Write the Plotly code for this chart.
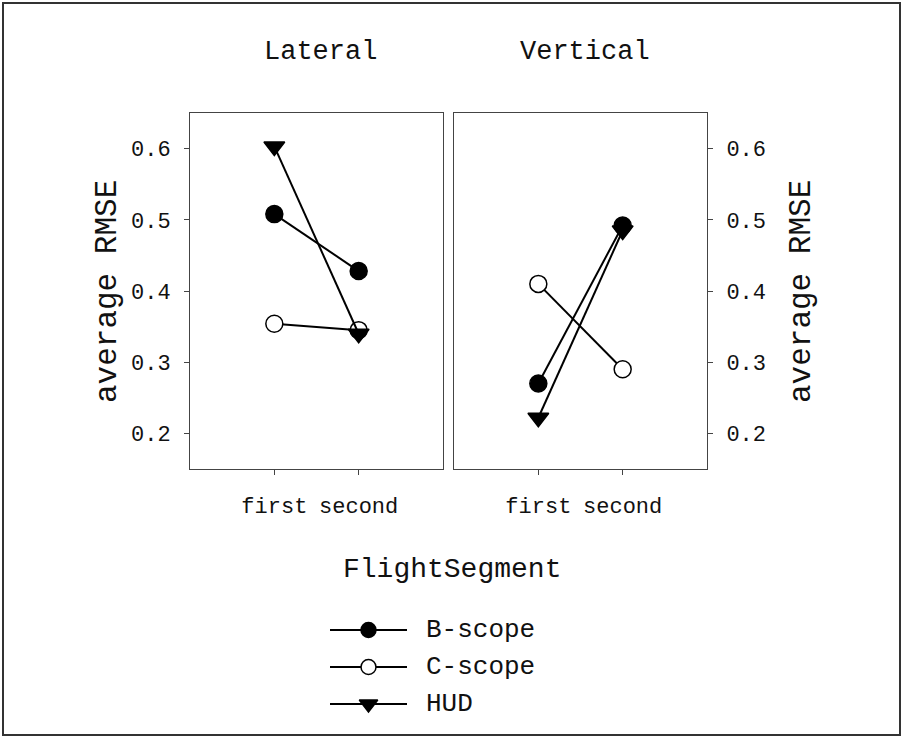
import plotly.graph_objects as go

# Average RMSE by flight segment, display type and axis
segments = ["first", "second"]
displays = ["B-scope", "C-scope", "HUD"]
lateral = {
    "B-scope": [0.508, 0.428],
    "C-scope": [0.354, 0.345],
    "HUD": [0.603, 0.340],
}
vertical = {
    "B-scope": [0.270, 0.492],
    "C-scope": [0.410, 0.290],
    "HUD": [0.222, 0.485],
}
panel_titles = ["Lateral", "Vertical"]
y_ticks = [0.2, 0.3, 0.4, 0.5, 0.6]
y_tick_text = ["0.2", "0.3", "0.4", "0.5", "0.6"]

FONT = "Courier New, Liberation Mono, monospace"
W, H = 903, 737

styles = {
    "B-scope": dict(symbol="circle", color="black"),
    "C-scope": dict(symbol="circle", color="white"),
    "HUD": dict(symbol="triangle-down", color="black"),
}

def px(x):
    return x / W

def py(y):
    return 1 - y / H

fig = go.Figure()
xpos = list(range(len(segments)))

for panel, (data, xa, ya) in enumerate([(lateral, "x", "y"), (vertical, "x2", "y2")]):
    for name in displays:
        st = styles[name]
        fig.add_trace(go.Scatter(
            x=xpos, y=data[name], mode="lines+markers", name=name,
            xaxis=xa, yaxis=ya, showlegend=False,
            line=dict(color="black", width=2),
            marker=dict(symbol=st["symbol"], size=17 if st["symbol"] == "circle" else 18,
                        color=st["color"], line=dict(color="black", width=1.5)),
            cliponaxis=False,
        ))

# Key: a line with the series marker at its middle, one row per display
key_rows = [630, 667, 704]
for i, name in enumerate(displays):
    st = styles[name]
    fig.add_trace(go.Scatter(
        x=[0, 2], y=[i, i], mode="lines", xaxis="x3", yaxis="y3",
        showlegend=False, line=dict(color="black", width=2), hoverinfo="skip",
    ))
    fig.add_trace(go.Scatter(
        x=[1], y=[i], mode="markers", xaxis="x3", yaxis="y3", showlegend=False,
        marker=dict(symbol=st["symbol"], size=15 if st["symbol"] == "circle" else 16,
                    color=st["color"], line=dict(color="black", width=1.5)),
        cliponaxis=False,
    ))

tick_font = dict(family=FONT, size=22, color="#111")
frame = "#444"

xaxis_common = dict(
    range=[-1, 2], tickvals=xpos, ticktext=segments, ticks="outside", ticklen=5,
    tickcolor=frame, showline=True, linecolor=frame, linewidth=1, mirror=True,
    showgrid=False, zeroline=False, tickfont=tick_font, ticklabelstandoff=12,
    automargin=False,
)
yaxis_common = dict(
    range=[0.15, 0.65], tickvals=y_ticks, ticktext=y_tick_text, ticks="outside",
    ticklen=5, tickcolor=frame, showline=True, linecolor=frame, linewidth=1,
    mirror=True, showgrid=False, zeroline=False, tickfont=tick_font,
    ticklabelstandoff=9, automargin=False,
)

y_dom = [py(469), py(113)]

def label(text, x, y, size, angle=0, xanchor="center"):
    return dict(text=text, x=px(x), y=py(y), xref="paper", yref="paper",
                xanchor=xanchor, yanchor="middle", showarrow=False,
                textangle=angle, font=dict(family=FONT, size=size, color="#111"))

annotations = [
    label(panel_titles[0], 320, 52, 27),
    label(panel_titles[1], 585, 52, 27),
    label("FlightSegment", 452, 569, 28),
    label("average RMSE", 107, 292, 31, angle=-90),
    label("average RMSE", 801, 292, 31, angle=-90),
]
for row, name in zip(key_rows, displays):
    annotations.append(label(name, 424, row, 26, xanchor="left"))

fig.update_layout(
    width=W, height=H,
    margin=dict(l=0, r=0, t=0, b=0),
    paper_bgcolor="white", plot_bgcolor="white",
    xaxis=dict(domain=[px(190), px(443)], anchor="y", **xaxis_common),
    yaxis=dict(domain=y_dom, anchor="x", side="left", **yaxis_common),
    xaxis2=dict(domain=[px(454), px(707)], anchor="y2", **xaxis_common),
    yaxis2=dict(domain=y_dom, anchor="x2", side="right", **yaxis_common),
    xaxis3=dict(domain=[px(330), px(407)], anchor="y3", range=[0, 2], visible=False),
    yaxis3=dict(domain=[py(722.5), py(611.5)], anchor="x3", range=[2.5, -0.5],
                visible=False),
    annotations=annotations,
    shapes=[dict(type="rect", xref="paper", yref="paper", x0=px(3), x1=px(900),
                 y0=py(735), y1=py(3), line=dict(color="#333", width=2))],
)

fig.write_html("out.html")
